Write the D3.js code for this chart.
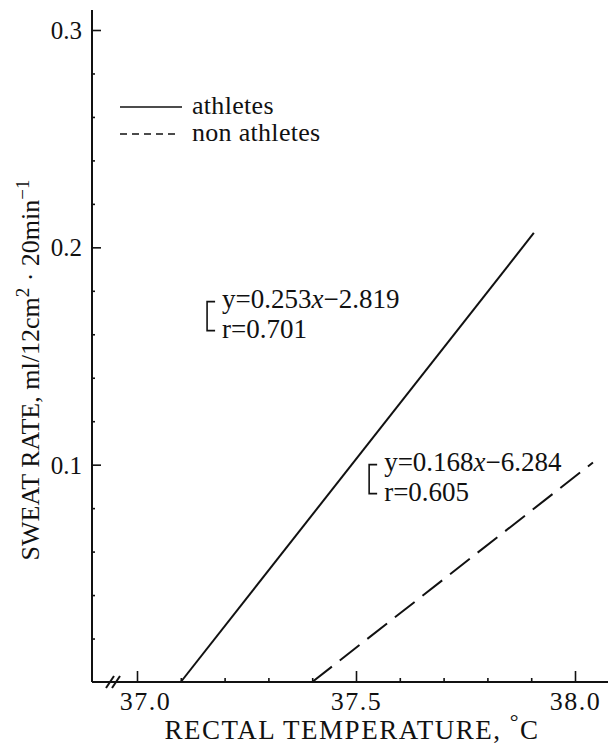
<!DOCTYPE html>
<html>
<head>
<meta charset="utf-8">
<script src="https://cdn.jsdelivr.net/npm/d3@7"></script>
<style>
  body { margin: 0; background: #fff; }
  svg text { font-family: "Liberation Serif", "DejaVu Serif", serif; fill: #111; }
</style>
</head>
<body>
<div id="chart"></div>
<script>
// values
var series = ["athletes", "non athletes"];
var athletes = [[37.1, 0], [37.906, 0.2066]];
var nonAthletes = [[37.4, 0], [38.041, 0.101]];
var xMajor = [37.0, 37.5, 38.0];
var xMinor = [37.1, 37.2, 37.3, 37.4, 37.6, 37.7, 37.8, 37.9];
var yMajor = [0.1, 0.2, 0.3];
var yMinor = [0.02, 0.04, 0.06, 0.08, 0.12, 0.14, 0.16, 0.18, 0.22, 0.24, 0.26, 0.28];
var equations = [
  { eq: "y=0.253", rest: "\u22122.819", r: "r=0.701", x: 37.16, y: 0.175 },
  { eq: "y=0.168", rest: "\u22126.284", r: "r=0.605", x: 37.53, y: 0.1 }
];

var W = 608, H = 747;
var svg = d3.select("#chart").append("svg")
  .attr("width", W).attr("height", H);

var x = d3.scaleLinear().domain([37, 38]).range([137, 575]);
var y = d3.scaleLinear().domain([0, 0.3]).range([682, 30]);

var axisX = 92, axisY = 682;

// axis lines
svg.append("line")
  .attr("x1", axisX).attr("x2", axisX)
  .attr("y1", 10).attr("y2", axisY)
  .attr("stroke", "#111").attr("stroke-width", 2);
svg.append("line")
  .attr("x1", axisX).attr("x2", 608)
  .attr("y1", axisY).attr("y2", axisY)
  .attr("stroke", "#111").attr("stroke-width", 2.2);

// break marks on x axis
var br = svg.append("g");
[0, 6].forEach(function(dx){
  br.append("line")
    .attr("x1", 106 + dx).attr("y1", axisY + 6)
    .attr("x2", 114 + dx).attr("y2", axisY - 6)
    .attr("stroke", "#111").attr("stroke-width", 2);
});

// x ticks (pointing up, inside)
var gx = svg.append("g").attr("transform", "translate(0," + axisY + ")");
gx.call(d3.axisBottom(x).tickValues(xMinor).tickSize(-4).tickFormat(""));
gx.append("g").call(d3.axisBottom(x).tickValues(xMajor).tickSize(-11).tickPadding(28)
  .tickFormat(d3.format(".1f")));
gx.selectAll(".domain").remove();
gx.selectAll("line").attr("stroke", "#111").attr("stroke-width", 1.6);
gx.selectAll("text")
  .style("font-size", "26px")
  .style("letter-spacing", "1.5px")
  .attr("dx", function(d){ return d === 37 ? 8 : 0; })
  .attr("dy", "0");

// y ticks (pointing right, inside)
var gy = svg.append("g").attr("transform", "translate(" + axisX + ",0)");
gy.call(d3.axisLeft(y).tickValues(yMinor).tickSize(-3).tickFormat(""));
gy.append("g").call(d3.axisLeft(y).tickValues(yMajor).tickSize(-9).tickPadding(10)
  .tickFormat(d3.format(".1f")));
gy.selectAll(".domain").remove();
gy.selectAll("line").attr("stroke", "#111").attr("stroke-width", 1.6);
gy.selectAll("text").style("font-size", "25px").attr("dy", "0.34em");

// lines
var line = d3.line().x(function(d){ return x(d[0]); }).y(function(d){ return y(d[1]); });
svg.append("path").datum(athletes)
  .attr("d", line).attr("fill", "none")
  .attr("stroke", "#111").attr("stroke-width", 2);
svg.append("path").datum(nonAthletes)
  .attr("d", line).attr("fill", "none")
  .attr("stroke", "#111").attr("stroke-width", 2)
  .attr("stroke-dasharray", "25,10");

// legend
var leg = svg.append("g");
series.forEach(function(s, i){
  var ly = 107 + i * 27;
  leg.append("line")
    .attr("x1", 120).attr("x2", i ? 176 : 182)
    .attr("y1", ly).attr("y2", ly)
    .attr("stroke", "#111").attr("stroke-width", 1.5)
    .attr("stroke-dasharray", i ? "7,5" : null);
  leg.append("text")
    .attr("x", 192).attr("y", ly + 7)
    .style("font-size", "26px")
    .style("letter-spacing", "0.3px")
    .text(s);
});

// regression annotations
equations.forEach(function(e){
  var px = x(e.x), py = y(e.y);
  var g = svg.append("g").attr("transform", "translate(" + px + "," + py + ")");
  g.append("path")
    .attr("d", "M8,0 H0 V29 H8")
    .attr("fill", "none").attr("stroke", "#111").attr("stroke-width", 1.6);
  var t = g.append("text").attr("x", 15).attr("y", 6).style("font-size", "27px");
  t.append("tspan").text(e.eq);
  t.append("tspan").style("font-style", "italic").text("x");
  t.append("tspan").text(e.rest);
  g.append("text").attr("x", 15).attr("y", 36).style("font-size", "27px").text(e.r);
});

// axis titles
var xt = svg.append("text")
  .attr("x", 352).attr("y", 739)
  .attr("text-anchor", "middle")
  .style("font-size", "27px")
  .style("letter-spacing", "1.5px");
xt.append("tspan").text("RECTAL  TEMPERATURE, ");
xt.append("tspan").attr("dy", -10).style("font-size", "22px").text("\u00b0");
xt.append("tspan").attr("dy", 10).text("C");

var yt = svg.append("text")
  .attr("transform", "translate(39,370) rotate(-90)")
  .attr("text-anchor", "middle")
  .style("font-size", "26px");
yt.append("tspan").text("SWEAT  RATE, ml/12cm");
yt.append("tspan").attr("dy", -10).style("font-size", "19px").text("2");
yt.append("tspan").attr("dy", 10).text(" \u00b7 20min");
yt.append("tspan").attr("dy", -10).style("font-size", "19px").text("\u22121");
</script>
</body>
</html>
